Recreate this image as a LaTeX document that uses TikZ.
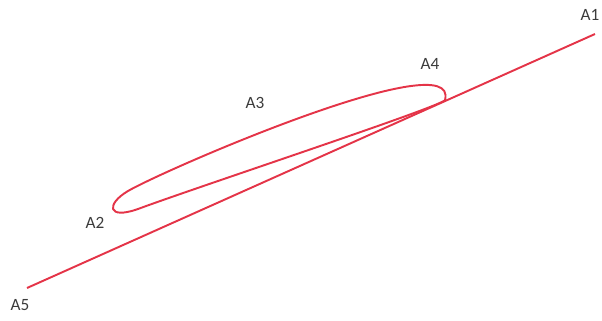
\documentclass[tikz,border=0pt]{standalone}
\usepackage{fontspec}
\setmainfont{Carlito}
\usepackage{tikz}
\usetikzlibrary{positioning}
\usepackage{xcolor}
\definecolor{curvered}{RGB}{228,52,72}
\definecolor{labelgray}{RGB}{60,60,60}

\tikzset{
    curve/.style={draw=curvered, line width=1.1pt},
    pointlabel/.style={text=labelgray, font=\fontsize{9.8}{11}\selectfont, inner sep=0pt}
}

\begin{document}
\begin{tikzpicture}
    \useasboundingbox (0,0) rectangle (12.04,6.4);

    % end points of the line
    \coordinate (lowend) at (0.54,0.64);
    \coordinate (highend) at (11.9,5.72);

    % points on the loop
    \coordinate (loopup) at (2.56,2.58);
    \coordinate (looptipr) at (8.90,4.40);
    \coordinate (looplow) at (2.76,2.22);

    % line
    \draw[curve] (lowend) -- (highend);

    % loop
    \draw[curve] (loopup) .. controls (3.36,3.04) and (9.20,5.56) .. (looptipr)
        .. controls (8.86,4.28) and (4.00,2.68) .. (looplow)
        .. controls (2.14,2.00) and (2.12,2.32) .. (loopup) -- cycle;

    % labels
    \node[pointlabel] (a1) at (11.8,6.1) {A1};
    \node[pointlabel] (a2) at (1.9,1.94) {A2};
    \node[pointlabel] (a3) at (5.1,4.34) {A3};
    \node[pointlabel] (a4) at (8.6,5.12) {A4};
    \node[pointlabel] (a5) at (0.4,0.3) {A5};
\end{tikzpicture}
\end{document}
